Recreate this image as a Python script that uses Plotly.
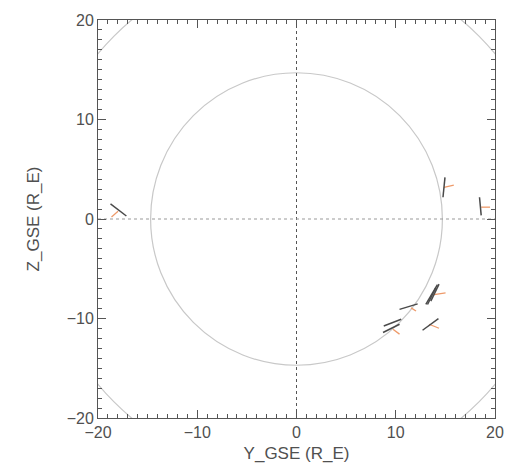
import plotly.graph_objects as go

# Black segments (start Y, start Z) -> (end Y, end Z) in R_E
black_y0 = [-18.74, 14.96, 18.44, 14.20, 14.36, 14.03, 10.38, 8.79, 8.72, 12.70]
black_z0 = [1.52, 4.18, 2.19, -6.60, -6.54, -6.93, -9.08, -10.75, -11.41, -11.18]
black_y1 = [-17.14, 14.76, 18.61, 13.03, 13.53, 13.20, 12.21, 10.55, 10.38, 14.30]
black_z1 = [0.30, 2.19, 0.37, -8.59, -8.26, -8.59, -8.53, -10.08, -10.58, -10.02]

# Orange segments
orange_y0 = [-18.64, 14.86, 18.61, 13.86, 11.54, 9.72, 13.36]
orange_z0 = [0.20, 3.18, 1.19, -7.59, -8.93, -11.08, -10.58]
orange_y1 = [-17.98, 15.85, 19.50, 15.02, 12.04, 10.38, 14.36]
orange_z1 = [0.77, 3.41, 1.19, -7.43, -9.25, -11.57, -10.98]

# Reference circles (radii in R_E)
circle_radii = [14.7, 26.0]

axis_range = [-20, 20]
tick_vals = [-20, -10, 0, 10, 20]


def seg_xy(x0, y0, x1, y1):
    xs, ys = [], []
    for a, b, c, d in zip(x0, y0, x1, y1):
        xs += [a, c, None]
        ys += [b, d, None]
    return xs, ys


fig = go.Figure()

bx, bz = seg_xy(black_y0, black_z0, black_y1, black_z1)
ox, oz = seg_xy(orange_y0, orange_z0, orange_y1, orange_z1)

fig.add_trace(go.Scatter(x=ox, y=oz, mode="lines",
                         line=dict(color="#EE9A6A", width=1.3),
                         hoverinfo="skip", showlegend=False))
fig.add_trace(go.Scatter(x=bx, y=bz, mode="lines",
                         line=dict(color="#4a4a4a", width=1.5),
                         hoverinfo="skip", showlegend=False))

for r in circle_radii:
    fig.add_shape(type="circle", xref="x", yref="y",
                  x0=-r, y0=-r, x1=r, y1=r,
                  line=dict(color="#c8c8c8", width=1.2), layer="below")

# dotted zero lines
fig.add_shape(type="line", xref="x", yref="y", x0=0, x1=0, y0=-20, y1=20,
              line=dict(color="#555555", width=1, dash="dot"), layer="below")
fig.add_shape(type="line", xref="x", yref="y", x0=-20, x1=20, y0=0, y1=0,
              line=dict(color="#999999", width=1, dash="dot"), layer="below")

axis_common = dict(
    range=axis_range, tickvals=tick_vals,
    ticks="inside", ticklen=8, tickwidth=1, tickcolor="#555555",
    showline=True, linecolor="#555555", linewidth=1, mirror="ticks",
    showgrid=False, zeroline=False,
    minor=dict(dtick=1, ticks="inside", ticklen=4, tickcolor="#555555", showgrid=False),
    tickfont=dict(family="Liberation Sans", size=16, color="#505050"),
)

fig.update_xaxes(**axis_common,
                 title=dict(text="Y_GSE (R_E)", standoff=6,
                            font=dict(family="Liberation Sans", size=17, color="#505050")))
fig.update_yaxes(**axis_common,
                 title=dict(text="Z_GSE (R_E)", standoff=22,
                            font=dict(family="Liberation Sans", size=17, color="#505050")))

fig.update_layout(width=516, height=473,
                  margin=dict(l=98, r=16, t=16, b=55),
                  plot_bgcolor="white", paper_bgcolor="white")

fig.write_html("out.html")
